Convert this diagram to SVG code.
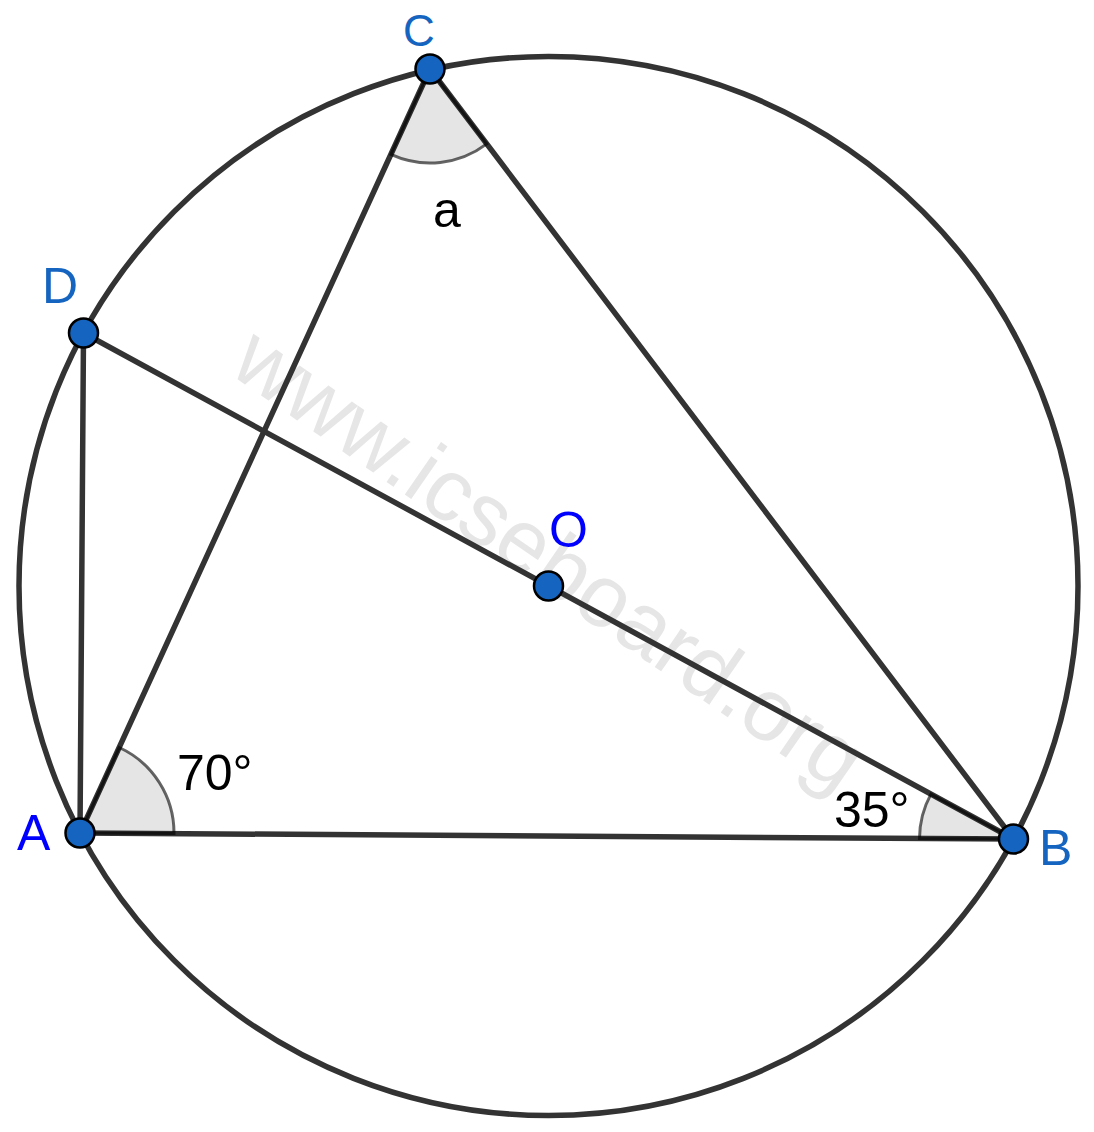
<svg xmlns="http://www.w3.org/2000/svg" width="1094" height="1132" viewBox="0 0 1094 1132">
<style>
.ln{stroke:#333333;stroke-width:5.5;fill:none;stroke-linecap:round}
.sec{fill:#000;fill-opacity:0.1;stroke:#000;stroke-opacity:0.6;stroke-width:3}
.pt{fill:#1565c0;stroke:#000;stroke-width:2.5}
.lbl{font-family:"Liberation Sans",Arial,sans-serif;font-size:50px}
.b1{fill:#1565c0}
.b2{fill:#0000ff}
.blk{fill:#000}
</style>
<rect width="1094" height="1132" fill="#fff"/>
<text x="533" y="583" text-anchor="middle" transform="rotate(34.6 533 583)" font-family="Liberation Sans, Arial, sans-serif" font-size="88" fill="#e6e6e6">www.icseboard.org</text>
<g id="circle"><circle cx="548.5" cy="586" r="529.5" class="ln"/></g>
<g id="connectors">
<line x1="80" y1="833" x2="1013.5" y2="839" class="ln"/>
<line x1="80" y1="833" x2="430" y2="69" class="ln"/>
<line x1="430" y1="69" x2="1013.5" y2="839" class="ln"/>
<line x1="80" y1="833" x2="83.5" y2="333" class="ln"/>
<line x1="83.5" y1="333" x2="1013.5" y2="839" class="ln"/>
</g>
<g id="angles">
<path class="sec" d="M80,833 L174,833.6 A94,94 0 0 0 119.2,747.5 Z"/>
<path class="sec" d="M1013.5,839 L919.5,838.4 A94,94 0 0 1 930.9,794.1 Z"/>
<path class="sec" d="M430,69 L390.85,154.45 A94,94 0 0 0 486.8,143.9 Z"/>
</g>
<g id="A"><circle cx="80" cy="833" r="14.5" class="pt"/><text x="17" y="850" class="lbl b2">A</text></g>
<g id="B"><circle cx="1013.5" cy="839" r="14.5" class="pt"/><text x="1039" y="865" class="lbl b1">B</text></g>
<g id="C"><circle cx="430" cy="69" r="14.5" class="pt"/><text x="403" y="46" class="lbl b1" style="font-size:44px">C</text></g>
<g id="D"><circle cx="83.5" cy="333" r="14.5" class="pt"/><text x="42" y="303" class="lbl b1">D</text></g>
<g id="O"><circle cx="548.5" cy="586" r="14.5" class="pt"/><text x="549" y="547" class="lbl b2">O</text></g>
<g id="labels">
<text x="177" y="790" class="lbl blk">70°</text>
<text x="834" y="827" class="lbl blk">35°</text>
<text x="433" y="227" class="lbl blk">a</text>
</g>
</svg>
